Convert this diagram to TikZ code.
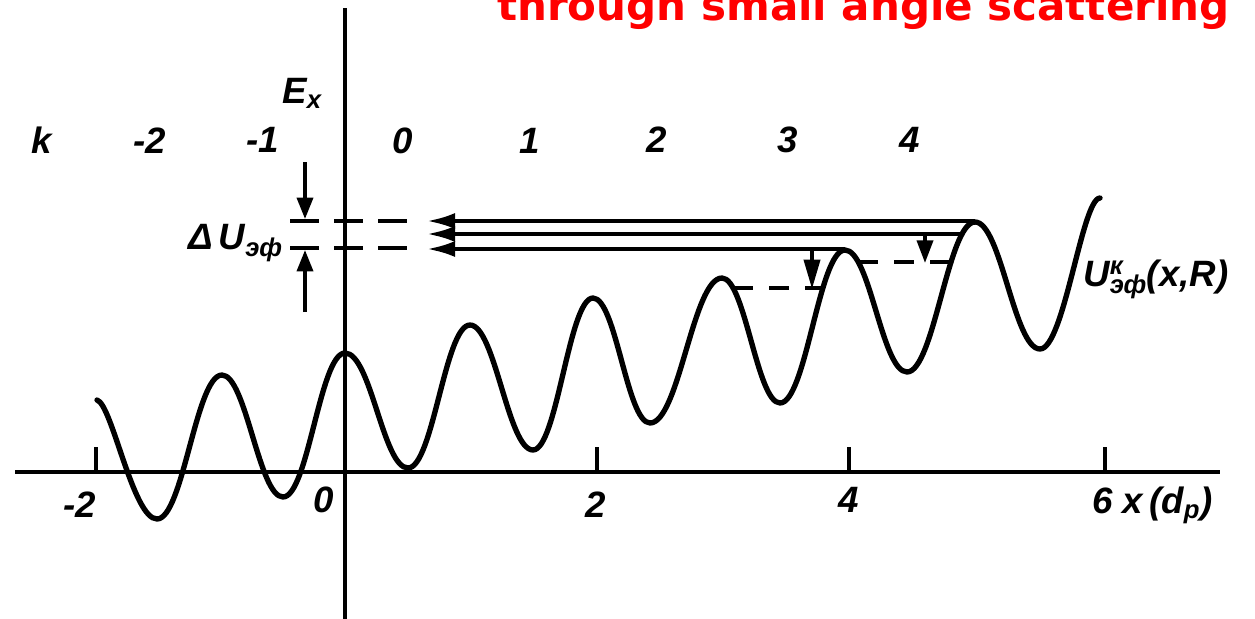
\documentclass[tikz,border=0pt]{standalone}
\usepackage{fontspec}
\setmainfont{Liberation Sans}
\newfontfamily\titlefont{DejaVu Sans}
\usetikzlibrary{arrows.meta}

\begin{document}
\begin{tikzpicture}[x=0.75pt,y=0.75pt,yscale=-1,xscale=1,
  lbl/.style={font=\fontsize{27.5}{32}\selectfont\bfseries\itshape, inner sep=0pt},
  axis/.style={line width=3.3pt},
  level/.style={line width=2.8pt},
  drop/.style={line width=2.8pt, dash pattern={on 15pt off 12pt}},
  gapline/.style={line width=3pt, dash pattern={on 21.75pt off 11.25pt}}]
%set diagram frame: 1255 x 618
\clip (0,0) rectangle (1255,618);

%Coordinates of the peaks
\coordinate (pk2) at (722,278);
\coordinate (pk3) at (845,249);
\coordinate (pk4) at (975,221);
\coordinate (tipa) at (427,221);
\coordinate (tipb) at (427,234);
\coordinate (tipc) at (427,249);

%Straight Lines (axes)
\draw [axis] (15,472) -- (1220,472) ;
\draw [axis] (345,8) -- (345,625) ;
%ticks
\draw [line width=2.6pt] (96,447) -- (96,472) ;
\draw [line width=2.6pt] (597,447) -- (597,472) ;
\draw [line width=2.6pt] (849,447) -- (849,472) ;
\draw [line width=2.6pt] (1105,447) -- (1105,472) ;

%Straight Lines (levels)
\draw [level, {Latex[length=21pt,width=12pt]}-] (tipa) -- (pk4) ;
\draw [level, {Latex[length=21pt,width=12pt]}-] (tipb) -- (962,234) ;
\draw [level, {Latex[length=21pt,width=12pt]}-] (tipc) -- (pk3) ;
%dashed lines to the axis
\draw [gapline] (290,221) -- (407,221) ;
\draw [gapline] (290,248) -- (407,248) ;
%dashed lines between the peaks
\draw [drop] (733,288) -- (823,288) ;
\draw [drop] (858,262) -- (951,262) ;
%drop arrows
\draw [level, -{Triangle[length=22pt,width=12pt]}] (812,249) -- (812,289) ;
\draw [level, -{Triangle[length=17pt,width=12pt]}] (925,234) -- (925,263) ;
%Delta U arrows
\draw [line width=2.6pt, -{Triangle[length=16pt,width=12pt]}] (305,162) -- (305,219) ;
\draw [line width=2.6pt, -{Triangle[length=16pt,width=12pt]}] (305,312) -- (305,250) ;

%Curve Lines
\draw [line width=4pt, line cap=round, line join=round] (97,400) .. controls (112,404) and (133,519) .. (157,519)
 .. controls (183,519) and (196,375) .. (222,375)
 .. controls (246,375) and (259,497) .. (283,497)
 .. controls (308,497) and (320,353) .. (345,353)
 .. controls (371,353) and (383,468) .. (408,468)
 .. controls (433,468) and (445,325) .. (470,325)
 .. controls (495,325) and (508,450) .. (533,450)
 .. controls (557,450) and (569,298) .. (593,298)
 .. controls (616,298) and (627,423) .. (650,423)
 .. controls (679,423) and (693,278) .. (pk2)
 .. controls (745,278) and (757,403) .. (780,403)
 .. controls (806,403) and (819,250) .. (845,250)
 .. controls (870,250) and (882,372) .. (907,372)
 .. controls (934,372) and (948,222) .. (975,222)
 .. controls (1001,222) and (1014,349) .. (1040,349)
 .. controls (1064,349) and (1082,198) .. (1100,198) ;

% Text Node
\draw (497,20) node (title) [anchor=base west, inner sep=0pt, text=red, font=\titlefont\bfseries\fontsize{31.5}{36}\selectfont] {through small angle scattering};
% Text Node
\draw (302,93) node (ex) [lbl] {E\textsubscript{x}};
% Text Node
\draw (42,140) node (kk) [lbl] {k};
\draw (150,141) node (km2) [lbl] {-2};
\draw (263,140) node (km1) [lbl] {-1};
\draw (403,141) node (k0) [lbl] {0};
\draw (530,141) node (k1) [lbl] {1};
\draw (657,140) node (k2) [lbl] {2};
\draw (788,140) node (k3) [lbl] {3};
\draw (910,140) node (k4) [lbl] {4};
% Text Node
\draw (188,243) node (du) [lbl, anchor=west] {Δ\,U\textsubscript{эф}};
% Text Node
\draw (1083,279) node (ueff) [lbl, anchor=west] {U\makebox[0pt][l]{\textsuperscript{к}}\textsubscript{эф}{(x,R)}};
% Text Node
\draw (80,505) node (xm2) [lbl] {-2};
\draw (324,500) node (x0) [lbl] {0};
\draw (596,505) node (x2) [lbl] {2};
\draw (849,500) node (x4) [lbl] {4};
\draw (1092,505) node (x6) [lbl, anchor=west] {6 x\,{(d\textsubscript{p})}};

\end{tikzpicture}
\end{document}
